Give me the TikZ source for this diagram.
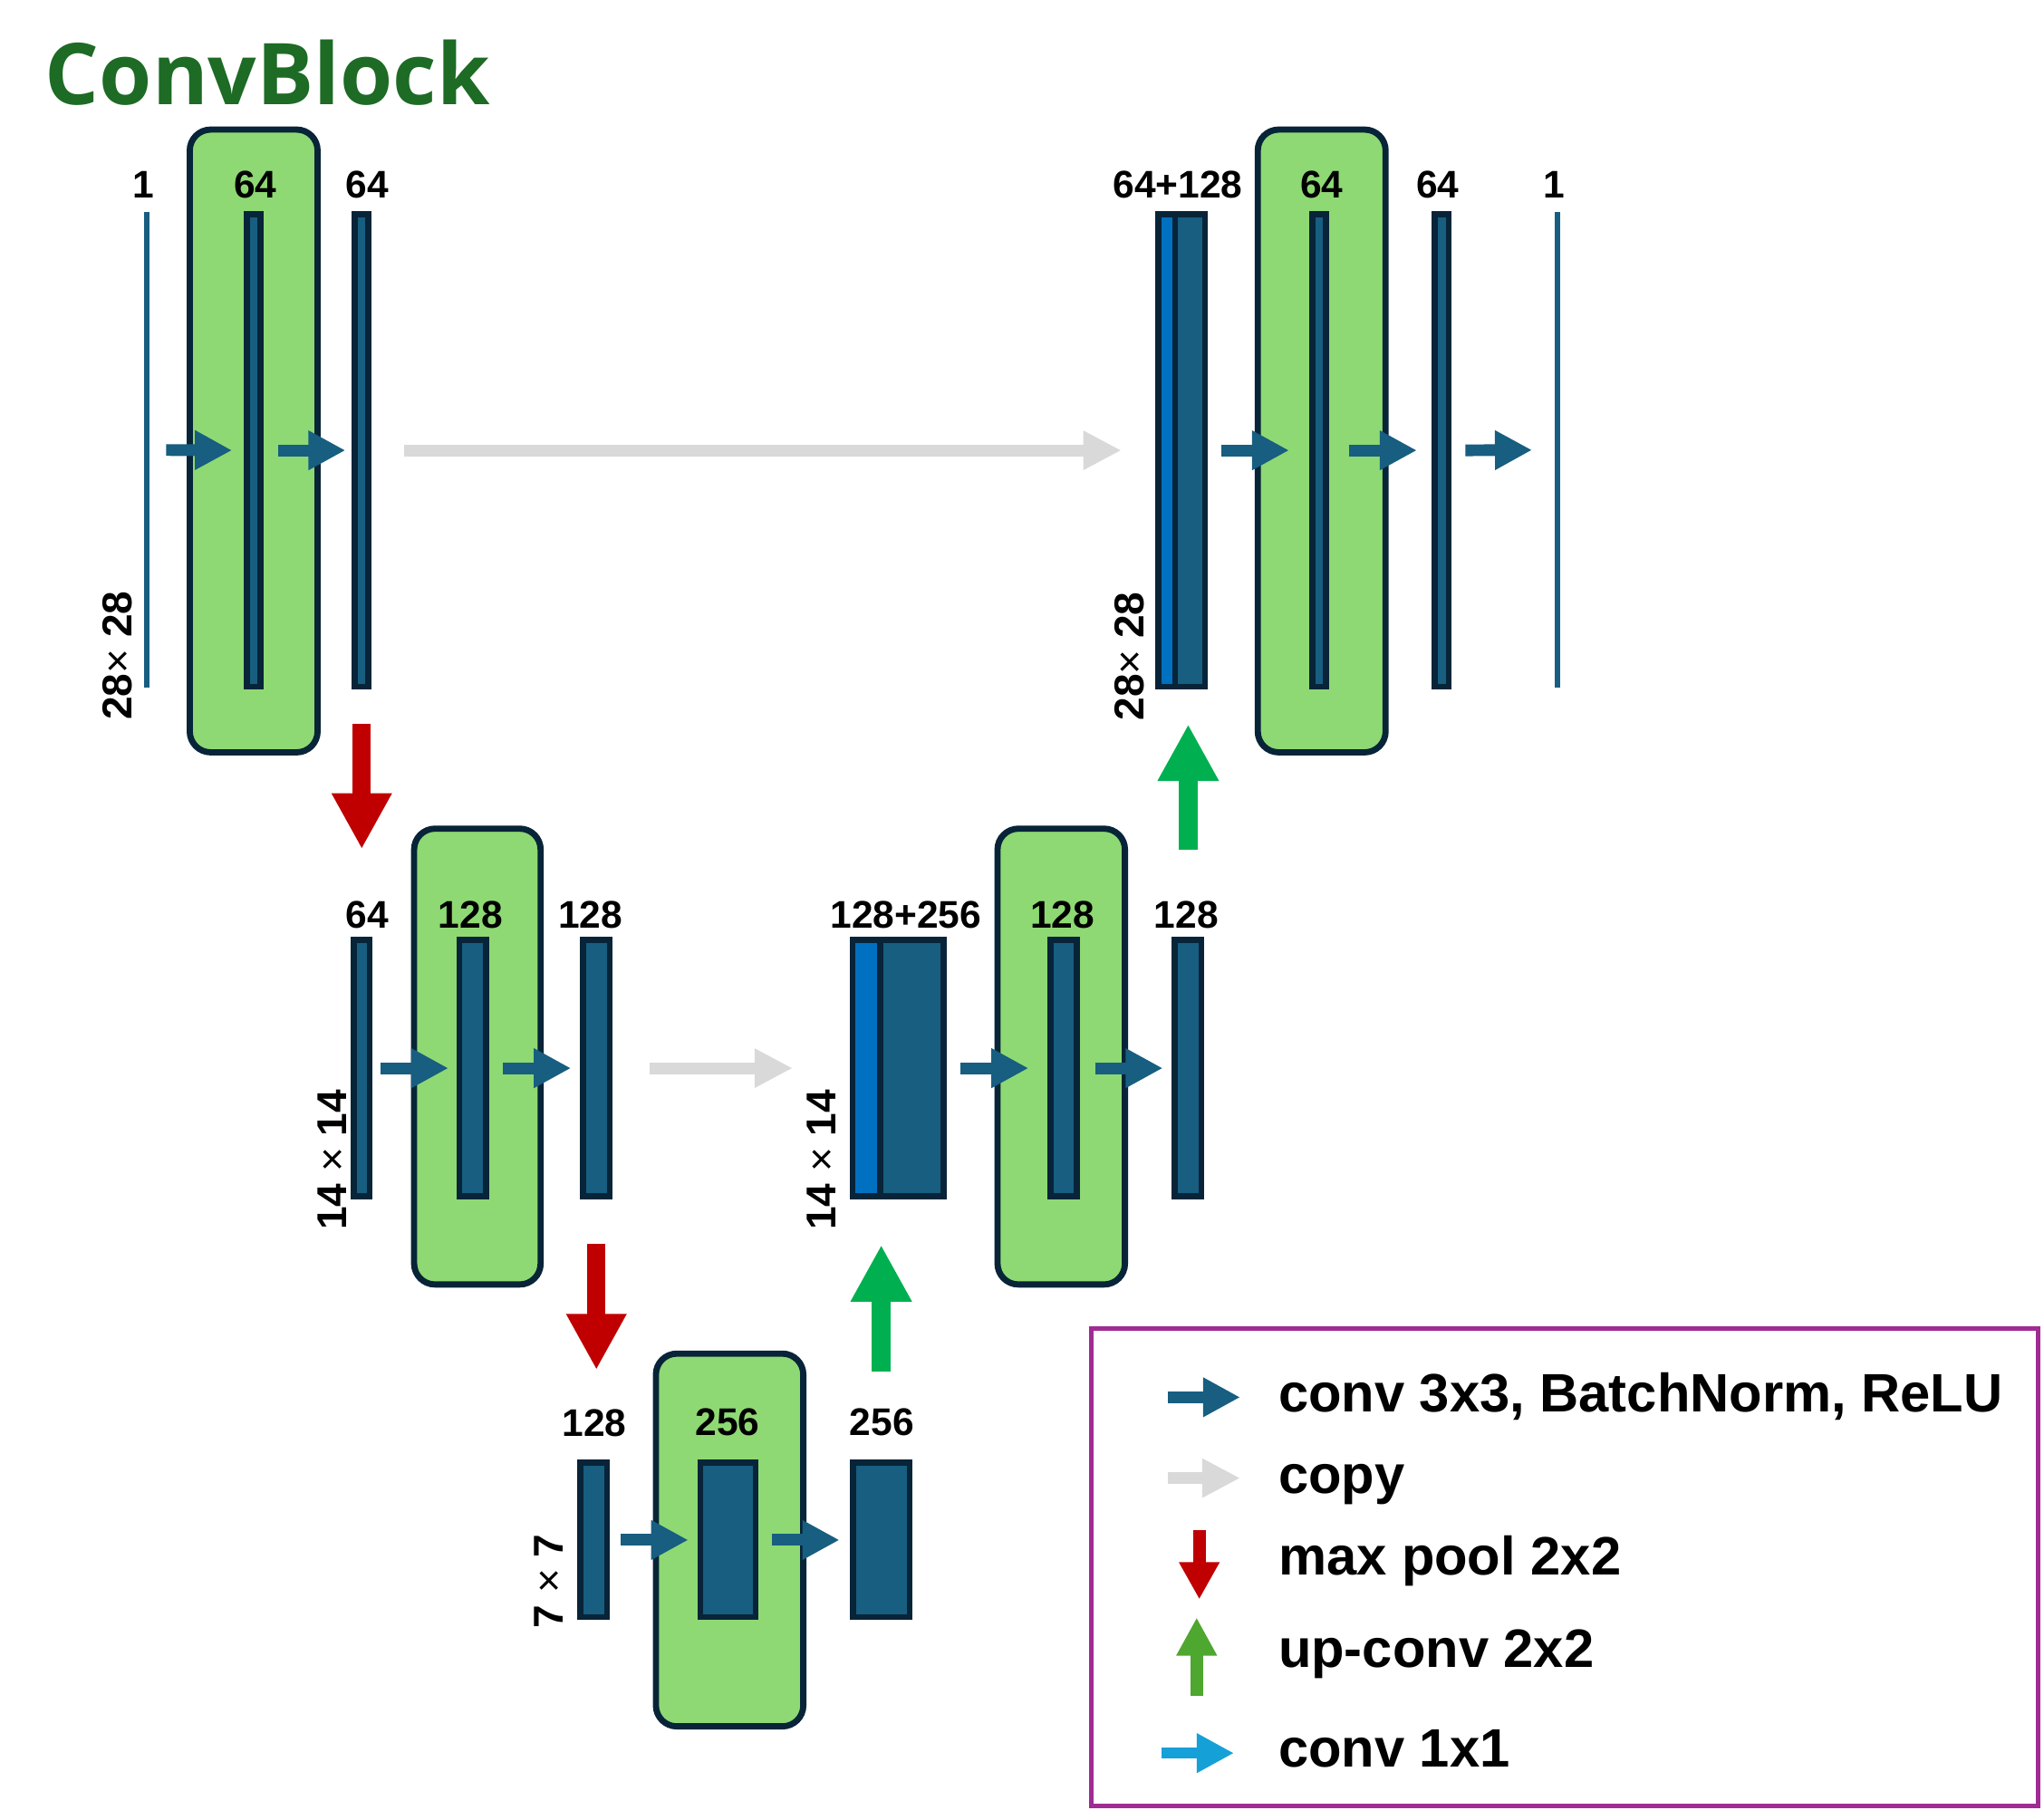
\documentclass[tikz,border=0pt]{standalone}
\usepackage{fontspec}
\setmainfont{Liberation Sans}
\newfontfamily\titlefont{Open Sans}
\usetikzlibrary{arrows.meta}
\definecolor{barfill}{HTML}{175E80}
\definecolor{barline}{HTML}{082438}
\definecolor{catblue}{HTML}{0070C0}
\definecolor{boxgreen}{HTML}{8ED973}
\definecolor{copygrey}{HTML}{D9D9D9}
\definecolor{poolred}{HTML}{C00000}
\definecolor{upgreen}{HTML}{00B050}
\definecolor{leggreen}{HTML}{4EA72E}
\definecolor{onebyone}{HTML}{16A0D8}
\definecolor{legpurple}{HTML}{A02B93}
\definecolor{titlegreen}{HTML}{1D6B25}
\begin{document}
\begin{tikzpicture}[x=0.01cm,y=-0.01cm,
  bar/.style={draw=barline, fill=barfill, line width=1.3pt, inner sep=0pt},
  catb/.style={draw=barline, fill=catblue, line width=1.3pt, inner sep=0pt},
  thin/.style={fill=barfill, inner sep=0pt},
  gbox/.style={draw=barline, fill=boxgreen, line width=1.35pt, rounded corners=0.16cm, inner sep=0pt},
  lab/.style={font=\fontsize{8.4}{10}\selectfont\bfseries, inner sep=0pt},
  dim/.style={font=\fontsize{9.1}{11}\selectfont, rotate=90, inner sep=0pt},
  legtext/.style={font=\fontsize{11.8}{14}\selectfont\bfseries, inner sep=0pt, anchor=base west},
  conv/.style={draw=barfill, line width=2.56pt, -{Triangle[length=8.1pt,width=8.1pt]}},
  copyarr/.style={draw=copygrey, line width=2.6pt, -{Triangle[length=8.3pt,width=8pt]}},
  pool/.style={draw=poolred, line width=4pt, -{Triangle[length=12.2pt,width=12.3pt]}},
  upconv/.style={draw=upgreen, line width=4.15pt, -{Triangle[length=12.4pt,width=12.5pt]}},
  legpool/.style={draw=poolred, line width=2.7pt, -{Triangle[length=8.1pt,width=8.3pt]}},
  legup/.style={draw=leggreen, line width=2.7pt, -{Triangle[length=8.3pt,width=8.3pt]}},
  legone/.style={draw=onebyone, line width=2.5pt, -{Triangle[length=8.1pt,width=8.1pt]}}
]
\useasboundingbox (0,0) rectangle (1568,1396);

% title
\node[anchor=base west, inner sep=0pt, text=titlegreen, font=\titlefont\bfseries\fontsize{18.6}{22}\selectfont] (title) at (34,80) {ConvBlock};

% green boxes
\node[gbox, minimum width=0.98cm, minimum height=4.775cm] (g1) at (194.6,338.3) {};
\node[gbox, minimum width=0.98cm, minimum height=4.775cm] (g5) at (1013.9,338.3) {};
\node[gbox, minimum width=0.97cm, minimum height=3.495cm] (g2) at (366.2,810.6) {};
\node[gbox, minimum width=0.977cm, minimum height=3.495cm] (g4) at (814.1,810.6) {};
\node[gbox, minimum width=1.13cm, minimum height=2.858cm] (g3) at (559.7,1181.5) {};

% level 1 (28x28)
\node[thin, minimum width=0.045cm, minimum height=3.644cm] (in) at (112.5,345.2) {};
\node[bar, minimum width=0.104cm, minimum height=3.624cm] (b1) at (194.5,345.5) {};
\node[bar, minimum width=0.104cm, minimum height=3.624cm] (b2) at (277.5,345.5) {};
\node[catb, minimum width=0.129cm, minimum height=3.624cm] (cat1a) at (895,345.5) {};
\node[bar, minimum width=0.229cm, minimum height=3.624cm] (cat1b) at (913,345.5) {};
\node[bar, minimum width=0.106cm, minimum height=3.624cm] (b5) at (1012,345.5) {};
\node[bar, minimum width=0.106cm, minimum height=3.624cm] (b6) at (1106,345.5) {};
\node[thin, minimum width=0.04cm, minimum height=3.644cm] (out) at (1195,345.2) {};

% level 2 (14x14)
\node[bar, minimum width=0.124cm, minimum height=1.964cm] (c1) at (277.5,819.5) {};
\node[bar, minimum width=0.204cm, minimum height=1.964cm] (c2) at (362.5,819.5) {};
\node[bar, minimum width=0.204cm, minimum height=1.964cm] (c3) at (457.5,819.5) {};
\node[catb, minimum width=0.212cm, minimum height=1.964cm] (cat2a) at (664.5,819.5) {};
\node[bar, minimum width=0.489cm, minimum height=1.964cm] (cat2b) at (699.55,819.5) {};
\node[bar, minimum width=0.204cm, minimum height=1.964cm] (c4) at (816,819.5) {};
\node[bar, minimum width=0.204cm, minimum height=1.964cm] (c5) at (911.5,819.5) {};

% level 3 (7x7)
\node[bar, minimum width=0.204cm, minimum height=1.184cm] (d1) at (455.5,1181.5) {};
\node[bar, minimum width=0.424cm, minimum height=1.184cm] (d2) at (558.5,1181.5) {};
\node[bar, minimum width=0.434cm, minimum height=1.184cm] (d3) at (676,1181.5) {};

% channel labels
\node[lab] (l1) at (110,142) {1};
\node[lab] (l2) at (196,142) {64};
\node[lab] (l3) at (281.5,142) {64};
\node[lab] (l4) at (903.6,142) {64+128};
\node[lab] (l5) at (1014,142) {64};
\node[lab] (l6) at (1103,142) {64};
\node[lab] (l7) at (1192,142) {1};
\node[lab] (m1) at (281.5,702) {64};
\node[lab] (m2) at (361,702) {128};
\node[lab] (m3) at (453,702) {128};
\node[lab] (m4) at (695,702) {128+256};
\node[lab] (m5) at (815,702) {128};
\node[lab] (m6) at (910,702) {128};
\node[lab] (n1) at (456,1092) {128};
\node[lab] (n2) at (558,1091) {256};
\node[lab] (n3) at (676.5,1091) {256};

% size labels
\node[dim] (s1) at (90,503) {\textbf{28}×\ \textbf{28}};
\node[dim] (s2) at (866.6,503.5) {\textbf{28}×\ \textbf{28}};
\node[dim] (s3) at (255,890) {\textbf{14} × \textbf{14}};
\node[dim] (s4) at (630,890) {\textbf{14} × \textbf{14}};
\node[dim] (s5) at (421,1213) {\textbf{7} × \textbf{7}};

% conv arrows
\draw[conv, shorten <=0.12cm, shorten >=0.09cm] (in.east) -- (b1.west);
\draw[conv, shorten <=0.115cm, shorten >=0.05cm] (b1.east) -- (b2.west);
\draw[conv, shorten <=0.10cm, shorten >=0.155cm] (cat1b.east) -- (b5.west);
\draw[conv, shorten <=0.15cm, shorten >=0.115cm] (b5.east) -- (b6.west);
\draw[conv, shorten <=0.105cm, shorten >=0.17cm] (b6.east) -- (out.west);
\draw[conv, shorten <=0.06cm, shorten >=0.06cm] (c1.east) -- (c2.west);
\draw[conv, shorten <=0.11cm, shorten >=0.07cm] (c2.east) -- (c3.west);
\draw[conv, shorten <=0.105cm, shorten >=0.145cm] (cat2b.east) -- (c4.west);
\draw[conv, shorten <=0.115cm, shorten >=0.07cm] (c4.east) -- (c5.west);
\draw[conv, shorten <=0.08cm, shorten >=0.07cm] (d1.east) -- (d2.west);
\draw[conv, shorten <=0.10cm, shorten >=0.08cm] (d2.east) -- (d3.west);

% copy arrows
\draw[copyarr, shorten <=0.25cm, shorten >=0.26cm] (b2.east) -- (cat1a.west);
\draw[copyarr, shorten <=0.28cm, shorten >=0.435cm] (c3.east) -- (cat2a.west);

% max pool arrows
\draw[pool, shorten <=0.26cm, shorten >=0.675cm] (b2.south) -- (c1.north);
\draw[pool, shorten <=0.34cm, shorten >=0.69cm] (c3.south) -- (c3.south |- d1.north);

% up-conv arrows
\draw[upconv, shorten <=0.68cm, shorten >=0.35cm] (d3.north) -- (d3.north |- cat2b.south);
\draw[upconv, shorten <=0.67cm, shorten >=0.265cm] (c5.north) -- (c5.north |- cat1b.south);

% legend
\node[draw=legpurple, line width=1pt, inner sep=0pt, minimum width=7.259cm, minimum height=3.659cm] (legend) at (1200.25,1202.25) {};
\coordinate (k1a) at (895.6,1072); \coordinate (k1b) at (951.4,1072);
\coordinate (k2a) at (895.6,1134); \coordinate (k2b) at (951.4,1134);
\coordinate (k3a) at (920,1174);   \coordinate (k3b) at (920,1227);
\coordinate (k4a) at (918,1301);   \coordinate (k4b) at (918,1241);
\coordinate (k5a) at (891,1345);   \coordinate (k5b) at (946.6,1345);
\draw[conv, line width=2.48pt] (k1a) -- (k1b);
\draw[copyarr, line width=2.48pt] (k2a) -- (k2b);
\draw[legpool] (k3a) -- (k3b);
\draw[legup] (k4a) -- (k4b);
\draw[legone] (k5a) -- (k5b);
\node[legtext] (t1) at (980,1083) {conv 3x3, BatchNorm, ReLU};
\node[legtext] (t2) at (980,1146) {copy};
\node[legtext] (t3) at (980,1208) {max pool 2x2};
\node[legtext] (t4) at (980,1279) {up-conv 2x2};
\node[legtext] (t5) at (980,1356) {conv 1x1};
\end{tikzpicture}
\end{document}
